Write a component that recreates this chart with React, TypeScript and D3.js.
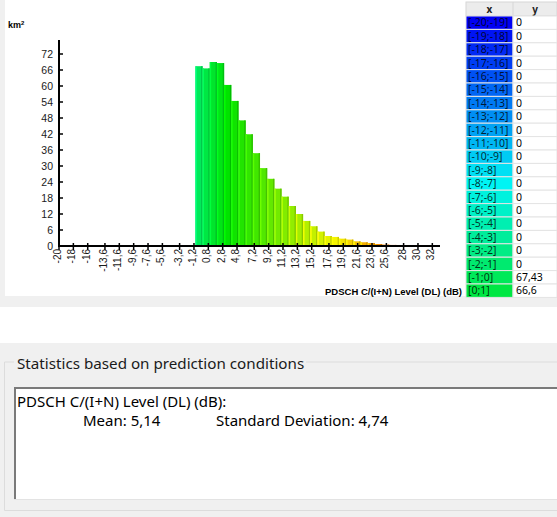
import React from "react";
import * as d3 from "d3";

// ---- data ----
const binStarts: number[] = d3.range(-20, 33); // bins [b; b+1]
const binValues: number[] = [
  0, 0, 0, 0, 0, 0, 0, 0, 0, 0, 0, 0, 0, 0, 0, 0, 0, 0, 0,
  67.43, 66.6, 69.0, 68.6, 60.4, 54.4, 47.1, 41.9, 34.8, 29.2, 25.2, 21.5, 18.5, 15.0, 12.0,
  9.4, 7.4, 5.4, 3.75, 3.4, 2.75, 2.4, 1.75, 1.4, 1.1, 0.75, 0.5, 0.4, 0.1, 0.35,
  0, 0, 0, 0,
];
const yTicks: number[] = [0, 6, 12, 18, 24, 30, 36, 42, 48, 54, 60, 66, 72];
const xTicks: number[] = [-20, -18, -16, -13.6, -11.6, -9.6, -7.6, -5.6, -3.2, -1.2, 0.8, 2.8, 4.8, 7.2, 9.2, 11.2, 13.2, 15.2, 17.6, 19.6, 21.6, 23.6, 25.6, 28, 30, 32];
const tableBins: number[] = d3.range(-20, 1); // visible rows
const tableValues: number[] = [0, 0, 0, 0, 0, 0, 0, 0, 0, 0, 0, 0, 0, 0, 0, 0, 0, 0, 0, 67.43, 66.6];
const axisTitle = "PDSCH C/(I+N) Level (DL) (dB)";
const unitLabel = "km";
const statsTitle = "Statistics based on prediction conditions";
const statsHeader = "PDSCH C/(I+N) Level (DL) (dB):";
const meanText = "Mean: 5,14";
const stdText = "Standard Deviation: 4,74";

const fmt = (v: number) => String(v).replace(".", ",");

export default function App() {
  const W = 557, H = 517;
  const x = d3.scaleLinear().domain([-20, 33]).range([59, 439.5]);
  const y = d3.scaleLinear().domain([0, 72]).range([246, 54]);
  const color = d3
    .scaleLinear<string>()
    .domain([-20, -8, 3, 18, 32])
    .range(["#0000f4", "#00f4f4", "#00e200", "#f4f400", "#f40000"]);

  const tableTop = 2;
  const headH = 14;
  const rowH = 13.4;
  const xColL = 466, xColR = 513, yColR = 557;

  return (
    <svg width={W} height={H} style={{ position: "absolute", left: 0, top: 0 }}>
      {/* backgrounds */}
      <rect x={0} y={0} width={W} height={H} fill="#f0f0f0" />
      <rect x={5} y={0} width={W - 5} height={296} fill="#ffffff" />
      <rect x={0} y={307} width={W} height={36} fill="#ffffff" />

      {/* bars */}
      {binStarts.map((b, i) => {
        const v = binValues[i];
        if (!v) return null;
        const x0 = x(b), x1 = x(b + 1);
        const top = y(v);
        const c = color(b);
        const h = y(0) - top;
        return (
          <g key={b}>
            <rect x={x0} y={top} width={x1 - x0} height={h} fill={c} />
            <rect x={x0} y={top} width={1.4} height={h} fill={d3.color(c)!.brighter(0.9).formatHex()} />
            <rect x={x1 - 1.4} y={top} width={1.4} height={h} fill={d3.color(c)!.darker(0.5).formatHex()} />
          </g>
        );
      })}

      {/* axes */}
      <line x1={59} x2={59} y1={40} y2={247} stroke="#000" strokeWidth={2} />
      <line x1={58} x2={440} y1={246} y2={246} stroke="#000" strokeWidth={2} />
      {yTicks.map((t) => (
        <g key={t}>
          <line x1={59} x2={63} y1={y(t)} y2={y(t)} stroke="#000" strokeWidth={1.5} />
          <text
            x={53}
            y={y(t)}
            dy="0.35em"
            textAnchor="end"
            fontFamily="Liberation Sans, Arial, sans-serif"
            fontSize={10.5}
            fill="#1a1a1a"
          >
            {t}
          </text>
        </g>
      ))}
      {xTicks.map((t) => (
        <g key={t}>
          <line x1={x(t)} x2={x(t)} y1={243} y2={250} stroke="#000" strokeWidth={1.5} />
          <text
            transform={`translate(${x(t) - 1.5},249) rotate(-90)`}
            dy="0.35em"
            textAnchor="end"
            fontFamily="Liberation Sans, Arial, sans-serif"
            fontSize={10}
            fill="#1a1a1a"
          >
            {fmt(t)}
          </text>
        </g>
      ))}
      <text x={8} y={28} fontFamily="Liberation Sans, Arial, sans-serif" fontSize={9} fontWeight="bold" fill="#000">
        {unitLabel}
        <tspan fontSize={6} dy={-3}>2</tspan>
      </text>
      <text
        x={462}
        y={295}
        textAnchor="end"
        fontFamily="Liberation Sans, Arial, sans-serif"
        fontSize={9.5}
        fontWeight="bold"
        fill="#000"
      >
        {axisTitle}
      </text>

      {/* table */}
      <rect x={xColL} y={tableTop} width={yColR - xColL} height={headH} fill="#ececec" stroke="#d6d6d6" />
      <line x1={xColR} x2={xColR} y1={tableTop} y2={tableTop + headH} stroke="#d6d6d6" />
      <text x={(xColL + xColR) / 2} y={tableTop + headH / 2} dy="0.35em" textAnchor="middle" fontFamily="Noto Sans, sans-serif" fontSize={10} fontWeight="bold" fill="#222">x</text>
      <text x={(xColR + yColR) / 2} y={tableTop + headH / 2} dy="0.35em" textAnchor="middle" fontFamily="Noto Sans, sans-serif" fontSize={10} fontWeight="bold" fill="#222">y</text>
      {tableBins.map((b, i) => {
        const ry = tableTop + headH + i * rowH;
        return (
          <g key={b}>
            <rect x={xColL} y={ry} width={xColR - xColL} height={rowH} fill={color(b)} stroke="#e4e4e4" strokeWidth={1} />
            <rect x={xColR} y={ry} width={yColR - xColR} height={rowH} fill="#fff" stroke="#e4e4e4" strokeWidth={1} />
            <text x={xColL + 2} y={ry + rowH / 2} dy="0.35em" fontFamily="Noto Sans, sans-serif" fontSize={10.5} fill="#000" fillOpacity={0.8}>
              {`[${b};${b + 1}]`}
            </text>
            <text x={xColR + 3} y={ry + rowH / 2} dy="0.35em" fontFamily="Noto Sans, sans-serif" fontSize={10.5} fill="#000">
              {fmt(tableValues[i])}
            </text>
          </g>
        );
      })}

      {/* statistics group box */}
      <path d="M 14 362 H 4.5 V 510.5 H 557" fill="none" stroke="#dcdcdc" strokeWidth={1} />
      <line x1={306} x2={557} y1={362} y2={362} stroke="#dcdcdc" strokeWidth={1} />
      <text x={17} y={369} fontFamily="Noto Sans, sans-serif" fontSize={15.2} fill="#1a1a1a">
        {statsTitle}
      </text>
      <rect x={14} y={387} width={W - 14} height={112} fill="#ffffff" />
      <path d="M 15 499 V 388 H 557" fill="none" stroke="#7a7a7a" strokeWidth={2} />
      <line x1={14} x2={557} y1={499.5} y2={499.5} stroke="#e3e3e3" strokeWidth={1} />
      <text x={17} y={407} fontFamily="Noto Sans, sans-serif" fontSize={15} fill="#000">
        {statsHeader}
      </text>
      <text x={83} y={426} fontFamily="Noto Sans, sans-serif" fontSize={15} fill="#000">
        {meanText}
      </text>
      <text x={216} y={426} fontFamily="Noto Sans, sans-serif" fontSize={15} fill="#000">
        {stdText}
      </text>
    </svg>
  );
}
